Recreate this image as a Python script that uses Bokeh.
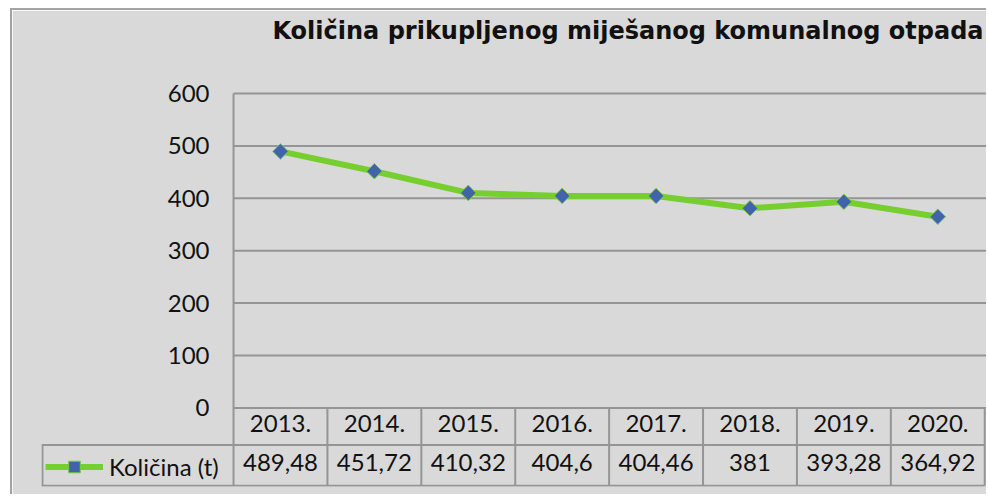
import math
from bokeh.plotting import figure
from bokeh.models import (Range1d, FixedTicker, Legend, LegendItem, ColumnDataSource)
from bokeh.core.properties import value
from bokeh.embed import file_html
from bokeh.resources import INLINE

# ---- data ----
years = ["2013.", "2014.", "2015.", "2016.", "2017.", "2018.", "2019.", "2020."]
kolicina = [489.48, 451.72, 410.32, 404.6, 404.46, 381, 393.28, 364.92]
y_ticks = [0, 100, 200, 300, 400, 500, 600]
series_name = "Količina (t)"
title_text = "Količina prikupljenog miješanog komunalnog otpada"

# ---- styles ----
BG = "#d9d9d9"
GRID = "#959595"
GREEN = "#76cf2f"
BLUE = "#4262ac"
TXT = "#111111"
FONT = "Lato"
FS = "24px"

n = len(years)
xc = [i + 0.5 for i in range(n)]
val_labels = [f"{v:g}".replace(".", ",") for v in kolicina]

X0 = -2.045      # left end of the legend cell (in column units)
X1 = 8.04
ROW1 = -71       # boundary between year row and value row (data units)
ROW2 = -148.5    # bottom of table
YMIN = -150
YTOP = 684       # frame top lies above the 600 gridline (room for the title)

p = figure(width=976, height=486, output_backend="svg", toolbar_location=None,
           x_range=Range1d(X0, X1), y_range=Range1d(YMIN, YTOP),
           x_axis_type=None, min_border_left=29, min_border_top=30,
           min_border_bottom=10, min_border_right=0,
           background_fill_color=BG, border_fill_color=BG,
           outline_line_color=BG, outline_line_width=2)
p.margin = (8, 0, 0, 10)
p.styles = {"border-left": "2px solid #a3a3a3", "border-top": "2px solid #a3a3a3"}

# title
p.title.text = title_text
p.title.align = "right"
p.title.offset = 5
p.title.text_font = "DejaVu Sans"
p.title.text_font_size = "24px"
p.title.text_font_style = "bold"
p.title.text_color = TXT
p.title.standoff = 9

# y axis (labels placed just left of the plot area)
ax = p.yaxis[0]
ax.ticker = FixedTicker(ticks=y_ticks)
ax.major_tick_out = 0
ax.major_tick_in = 0
ax.minor_tick_line_color = None
ax.axis_line_color = None
ax.major_label_standoff = -168
ax.major_label_text_font = FONT
ax.major_label_text_font_size = FS
ax.major_label_text_color = TXT

p.xgrid.visible = False
p.ygrid.visible = False

# horizontal gridlines of the plot area
p.segment(x0=[0] * len(y_ticks), y0=y_ticks, x1=[X1] * len(y_ticks), y1=y_ticks,
          line_color=GRID, line_width=2)
# left edge of plot area / table
p.segment(x0=[0], y0=[ROW2], x1=[0], y1=[max(y_ticks)], line_color=GRID, line_width=2)
# table horizontal lines (incl. legend cell)
p.segment(x0=[X0, X0], y0=[ROW1, ROW2], x1=[n, n], y1=[ROW1, ROW2],
          line_color=GRID, line_width=2)
# table vertical lines
p.segment(x0=list(range(1, n + 1)), y0=[0] * n, x1=list(range(1, n + 1)), y1=[ROW2] * n,
          line_color=GRID, line_width=2)
p.segment(x0=[X0 + 0.01], y0=[ROW1], x1=[X0 + 0.01], y1=[ROW2], line_color=GRID, line_width=2)

# table texts
p.text(x=xc, y=[ROW1 / 2] * n, text=years, text_align="center", text_baseline="middle",
       y_offset=-3, text_font=value(FONT), text_font_size=FS, text_color=TXT)
p.text(x=xc, y=[(ROW1 + ROW2) / 2] * n, text=val_labels, text_align="center",
       text_baseline="middle", y_offset=-3,
       text_font=value(FONT), text_font_size=FS, text_color=TXT)

# series
src = ColumnDataSource(dict(x=xc, y=kolicina))
lr = p.line("x", "y", source=src, line_color=GREEN, line_width=6)
mr = p.scatter("x", "y", source=src, marker="square", angle=math.pi / 4, size=11,
               fill_color=BLUE, line_color=GREEN, line_width=1)

legend = Legend(items=[LegendItem(label=series_name, renderers=[lr, mr])],
                location=(4, 5), margin=0, padding=6,
                glyph_width=58, glyph_height=29, label_height=29, label_standoff=6,
                label_text_font=FONT, label_text_font_size=FS, label_text_color=TXT,
                border_line_color=None, background_fill_alpha=0)
p.add_layout(legend, "center")

open("out.html", "w").write(file_html(p, INLINE))
